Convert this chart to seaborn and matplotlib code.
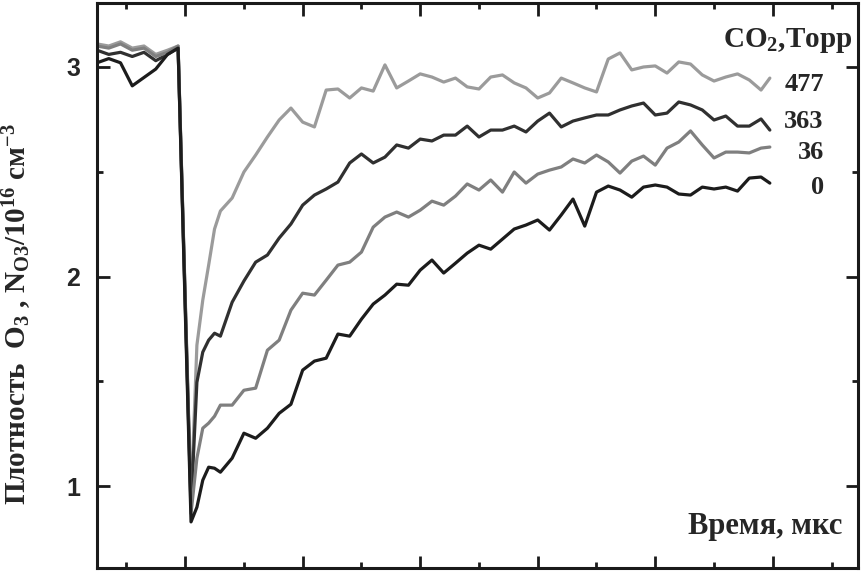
import matplotlib
matplotlib.use("Agg")
import numpy as np
import pandas as pd
import matplotlib.pyplot as plt
from matplotlib.ticker import MultipleLocator, NullFormatter
import seaborn as sns

# time axis (arbitrary units, major tick every 20)
time = [-15, -13, -11, -9, -7, -5, -3, -1.2, 1,
        2, 3, 4, 5, 6, 8, 10, 12, 14, 16, 18, 20, 22, 24, 26, 28, 30,
        32, 34, 36, 38, 40, 42, 44, 46, 48, 50, 52, 54, 56, 58, 60,
        62, 64, 66, 68, 70, 72, 74, 76, 78, 80, 82, 84, 86, 88, 90,
        92, 94, 96, 98, 99.5]

# O3 density, 10^16 cm^-3, for each CO2 pressure (Torr)
n_477 = [3.11, 3.10, 3.12, 3.09, 3.10, 3.06, 3.08, 3.10, 0.93,
         1.673, 1.888, 2.055, 2.227, 2.313, 2.375, 2.499, 2.580, 2.666, 2.747, 2.804,
         2.737, 2.714, 2.890, 2.895, 2.852, 2.900, 2.885, 3.010, 2.900, 2.933,
         2.967, 2.952, 2.928, 2.947, 2.905, 2.895, 2.952, 2.962, 2.924, 2.900,
         2.852, 2.876, 2.947, 2.924, 2.900, 2.881, 3.038, 3.067, 2.986, 3.000,
         3.005, 2.971, 3.024, 3.014, 2.962, 2.933, 2.952, 2.967, 2.938, 2.890, 2.947]
n_363 = [3.08, 3.06, 3.07, 3.05, 3.07, 3.03, 3.06, 3.09, 0.90,
         1.496, 1.640, 1.697, 1.730, 1.716, 1.878, 1.979, 2.069, 2.103, 2.184, 2.251,
         2.341, 2.389, 2.418, 2.451, 2.542, 2.585, 2.542, 2.570, 2.628, 2.613,
         2.656, 2.647, 2.675, 2.675, 2.718, 2.666, 2.699, 2.699, 2.718, 2.690,
         2.742, 2.780, 2.714, 2.742, 2.757, 2.771, 2.771, 2.795, 2.814, 2.828,
         2.771, 2.780, 2.833, 2.819, 2.795, 2.747, 2.766, 2.718, 2.718, 2.752, 2.699]
n_36 = [3.10, 3.09, 3.11, 3.08, 3.09, 3.05, 3.07, 3.10, 0.87,
        1.134, 1.277, 1.301, 1.334, 1.387, 1.387, 1.458, 1.468, 1.649, 1.697, 1.840,
        1.921, 1.912, 1.983, 2.055, 2.069, 2.117, 2.236, 2.284, 2.308, 2.284,
        2.317, 2.360, 2.341, 2.384, 2.442, 2.413, 2.461, 2.403, 2.499, 2.446,
        2.489, 2.508, 2.523, 2.561, 2.542, 2.580, 2.547, 2.494, 2.551, 2.575,
        2.532, 2.613, 2.642, 2.695, 2.628, 2.566, 2.594, 2.594, 2.590, 2.613, 2.618]
n_0 = [3.02, 3.04, 3.02, 2.91, 2.95, 2.99, 3.06, 3.09, 0.83,
       0.900, 1.029, 1.091, 1.086, 1.067, 1.134, 1.253, 1.229, 1.277, 1.348, 1.391,
       1.554, 1.597, 1.611, 1.726, 1.716, 1.797, 1.869, 1.912, 1.964, 1.959,
       2.031, 2.079, 2.017, 2.064, 2.112, 2.150, 2.131, 2.179, 2.227, 2.246,
       2.270, 2.222, 2.294, 2.370, 2.241, 2.403, 2.432, 2.413, 2.379, 2.427,
       2.437, 2.427, 2.394, 2.389, 2.427, 2.418, 2.427, 2.408, 2.470, 2.475, 2.446]

pressures = ["477", "363", "36", "0"]
series = [n_477, n_363, n_36, n_0]
colors = {"477": "#9b9b9b", "363": "#303030", "36": "#7f7f7f", "0": "#1c1c1c"}

sns.set_style("ticks")
plt.rcParams["font.family"] = ["Liberation Serif", "DejaVu Serif"]
plt.rcParams["mathtext.fontset"] = "custom"
plt.rcParams["mathtext.rm"] = "Liberation Serif:bold"
plt.rcParams["mathtext.it"] = "Liberation Serif:bold"
plt.rcParams["mathtext.bf"] = "Liberation Serif:bold"

fig = plt.figure(figsize=(8.63, 5.73), dpi=100)
ax = fig.add_axes([0.1124, 0.0087, 0.8818, 0.986])

for p, vals in zip(pressures, series):
    df = pd.DataFrame({"t": time, "n": vals})
    sns.lineplot(data=df, x="t", y="n", color=colors[p], linewidth=2.3,
                 estimator=None, sort=False, legend=False, ax=ax)

ax.set_xlim(-15, 114.5)
ax.set_ylim(0.61, 3.305)

ax.xaxis.set_major_locator(MultipleLocator(20))
ax.xaxis.set_minor_locator(MultipleLocator(10))
ax.yaxis.set_major_locator(MultipleLocator(1))
ax.yaxis.set_minor_locator(MultipleLocator(0.5))
ax.xaxis.set_major_formatter(NullFormatter())
ax.tick_params(which="both", direction="in", top=True, right=True,
               color="#1a1a1a", width=2)
ax.tick_params(which="major", length=9)
ax.tick_params(which="minor", length=4.5)
ax.tick_params(axis="y", which="major", pad=12, labelsize=18)
for lbl in ax.get_yticklabels():
    lbl.set_family(["Liberation Sans", "DejaVu Sans"])
    lbl.set_fontweight("bold")

for s in ax.spines.values():
    s.set_linewidth(2.2)
    s.set_color("#1a1a1a")

ax.set_xlabel("")
ax.set_ylabel("Плотность  O$_3$ , N$_{O3}$/10$^{16}$ см$^{-3}$",
              fontsize=21, fontweight="bold")
ax.yaxis.set_label_coords(-0.083, 0.45)

ax.text(0.979, 0.073, "Время, мкс", transform=ax.transAxes, ha="right",
        va="center", fontsize=22, fontweight="bold")
ax.text(0.992, 0.934, "CO$_2$,Торр", transform=ax.transAxes, ha="right",
        va="center", fontsize=21, fontweight="bold")
label_y = [0.855, 0.790, 0.736, 0.673]
for p, yy in zip(pressures, label_y):
    ax.text(0.955, yy, p, transform=ax.transAxes, ha="right", va="center",
            fontsize=19, fontweight="bold")

fig.savefig("out.png", dpi=100)
